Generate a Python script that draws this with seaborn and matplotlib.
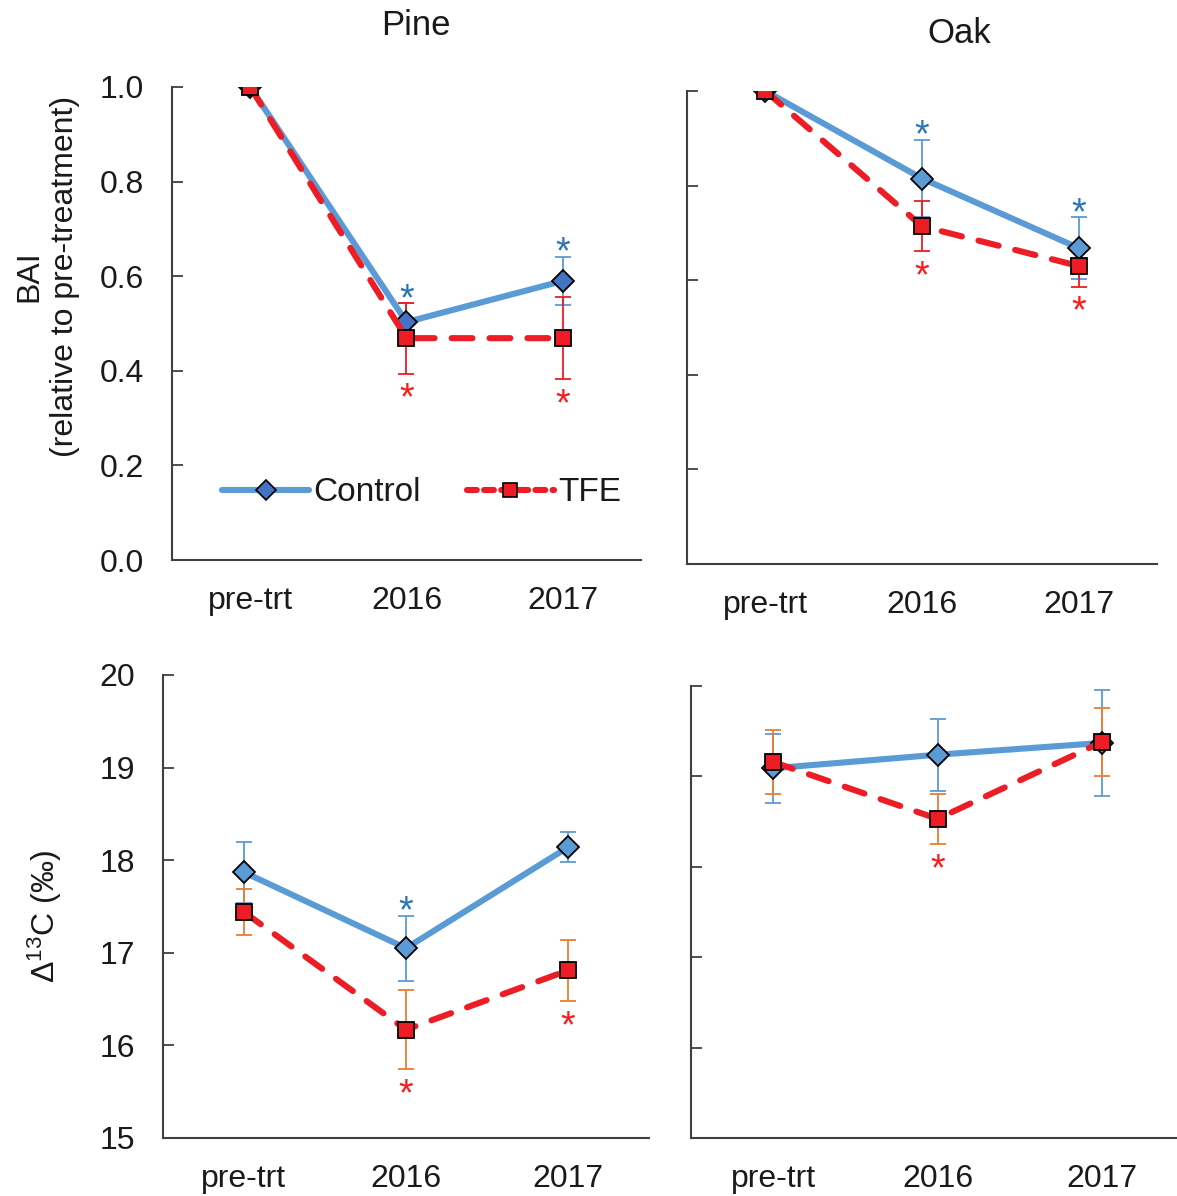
import numpy as np
import pandas as pd
import matplotlib
matplotlib.use("Agg")
import matplotlib.pyplot as plt
import seaborn as sns
from matplotlib.lines import Line2D

# ---------------- data ----------------
categories = ["pre-trt", "2016", "2017"]
treatments = ["Control", "TFE"]

pine_bai_control = [1.0, 0.503, 0.590]
pine_bai_control_se = [0.0, 0.040, 0.051]
pine_bai_tfe = [1.0, 0.469, 0.469]
pine_bai_tfe_se = [0.0, 0.075, 0.087]

oak_bai_control = [1.0, 0.815, 0.668]
oak_bai_control_se = [0.0, 0.082, 0.065]
oak_bai_tfe = [1.0, 0.714, 0.630]
oak_bai_tfe_se = [0.0, 0.053, 0.044]

pine_d13c_control = [17.87, 17.05, 18.14]
pine_d13c_control_se = [0.33, 0.35, 0.16]
pine_d13c_tfe = [17.44, 16.17, 16.81]
pine_d13c_tfe_se = [0.25, 0.43, 0.33]

oak_d13c_control = [19.09, 19.24, 19.37]
oak_d13c_control_se = [0.38, 0.40, 0.59]
oak_d13c_tfe = [19.16, 18.53, 19.38]
oak_d13c_tfe_se = [0.35, 0.28, 0.38]

# significance flags (asterisks)
pine_bai_control_sig = [False, True, True]
pine_bai_tfe_sig = [False, True, True]
oak_bai_control_sig = [False, True, True]
oak_bai_tfe_sig = [False, True, True]
pine_d13c_control_sig = [False, True, False]
pine_d13c_tfe_sig = [False, True, True]
oak_d13c_control_sig = [False, False, False]
oak_d13c_tfe_sig = [False, True, False]

bai_ticks = [0.0, 0.2, 0.4, 0.6, 0.8, 1.0]
d13c_ticks = [15, 16, 17, 18, 19, 20]

# ---------------- style ----------------
sns.set_theme(style="white")
plt.rcParams["font.family"] = ["Liberation Sans", "DejaVu Sans"]
plt.rcParams["mathtext.fontset"] = "custom"
plt.rcParams["mathtext.rm"] = "Liberation Sans"
plt.rcParams["mathtext.it"] = "Liberation Sans:italic"
plt.rcParams["mathtext.bf"] = "Liberation Sans:bold"

BLUE = "#5B9BD5"
DARKBLUE = "#4472C4"
RED = "#EE1C25"
ORANGE = "#ED7D31"
SPINE = "#404040"
TEXT = "#1a1a1a"
FS = 23

W, H = 1177, 1196
fig = plt.figure(figsize=(W / 100, H / 100), dpi=100)


def rect(x0, y0, x1, y1):
    return [x0 / W, 1 - y1 / H, (x1 - x0) / W, (y1 - y0) / H]


ax_tl = fig.add_axes(rect(172, 87, 641, 560))
ax_tr = fig.add_axes(rect(687, 91, 1157, 564))
ax_bl = fig.add_axes(rect(163, 675, 649, 1138))
ax_br = fig.add_axes(rect(691, 686, 1184, 1138))


def star(ax, x, y, color, above):
    # asterisk glyph centred ~11pt beyond the error-bar cap
    fs = 27
    glyph_mid = 0.57 * fs
    off = 10.5 - glyph_mid if above else -10.5 - glyph_mid
    ax.annotate("*", xy=(x, y), xytext=(0, off), textcoords="offset points",
                ha="center", va="baseline", fontsize=fs, color=color,
                annotation_clip=False, zorder=6)


def panel(ax, ctrl, ctrl_se, tfe, tfe_se, ctrl_sig, tfe_sig, ylim, yticks,
          ticklabels, tfe_err_color, diamond_fc, star_blue):
    x = np.arange(len(categories))
    ax.errorbar(x, ctrl, yerr=ctrl_se, fmt="none", ecolor=BLUE, elinewidth=1.3,
                capsize=5.5, capthick=1.3, zorder=1.5)
    ax.errorbar(x, tfe, yerr=tfe_se, fmt="none", ecolor=tfe_err_color, elinewidth=1.3,
                capsize=5.5, capthick=1.3, zorder=1.6)
    df = pd.DataFrame({
        "x": list(x) * 2,
        "y": list(ctrl) + list(tfe),
        "trt": ["Control"] * 3 + ["TFE"] * 3,
    })
    n0 = len(ax.lines)
    sns.lineplot(data=df, x="x", y="y", hue="trt", style="trt",
                 palette={"Control": BLUE, "TFE": RED},
                 markers={"Control": "D", "TFE": "s"},
                 dashes={"Control": "", "TFE": (3.4, 2.8)},
                 linewidth=4.4, markeredgecolor="black", markeredgewidth=1.3,
                 errorbar=None, legend=False, sort=False, ax=ax)
    new = ax.lines[n0:]
    for ln in new:
        ln.set_zorder(3)
        if ln.get_marker() == "D":
            ln.set_markerfacecolor(diamond_fc)
            ln.set_markersize(11)
        else:
            ln.set_markersize(11)
            ln.set_dash_capstyle("round")
            ln.set_zorder(3.5)
    for i in range(3):
        if ctrl_sig[i]:
            star(ax, i, ctrl[i] + ctrl_se[i], star_blue, True)
        if tfe_sig[i]:
            star(ax, i, tfe[i] - tfe_se[i], "#FF1A1A", False)

    ax.set_xlim(-0.5, 2.5)
    ax.set_ylim(*ylim)
    ax.set_yticks(yticks)
    ax.set_xticks(x)
    ax.set_xticklabels(categories)
    if ticklabels is None:
        ax.set_yticklabels([])
    else:
        ax.set_yticklabels(ticklabels)
    ax.set_xlabel("")
    ax.set_ylabel("")
    for s in ["top", "right"]:
        ax.spines[s].set_visible(False)
    for s in ["left", "bottom"]:
        ax.spines[s].set_color(SPINE)
        ax.spines[s].set_linewidth(1.5)
    ax.tick_params(axis="y", direction="in", length=8, width=1.3, color=SPINE,
                   labelsize=FS, labelcolor=TEXT, pad=20, left=True)
    ax.tick_params(axis="x", length=0, labelsize=FS, labelcolor=TEXT, pad=19,
                   bottom=True)
    ax.patch.set_alpha(0)


panel(ax_tl, pine_bai_control, pine_bai_control_se, pine_bai_tfe, pine_bai_tfe_se,
      pine_bai_control_sig, pine_bai_tfe_sig, (0, 1.0), bai_ticks,
      [f"{t:.1f}" for t in bai_ticks], RED, DARKBLUE, "#2E75B6")
panel(ax_tr, oak_bai_control, oak_bai_control_se, oak_bai_tfe, oak_bai_tfe_se,
      oak_bai_control_sig, oak_bai_tfe_sig, (0, 1.0), bai_ticks, None, RED,
      BLUE, "#2E75B6")
panel(ax_bl, pine_d13c_control, pine_d13c_control_se, pine_d13c_tfe, pine_d13c_tfe_se,
      pine_d13c_control_sig, pine_d13c_tfe_sig, (15, 20), d13c_ticks,
      [str(t) for t in d13c_ticks], ORANGE, BLUE, "#2E75B6")
panel(ax_br, oak_d13c_control, oak_d13c_control_se, oak_d13c_tfe, oak_d13c_tfe_se,
      oak_d13c_control_sig, oak_d13c_tfe_sig, (15, 20), d13c_ticks, None, ORANGE,
      BLUE, "#2E75B6")

# titles
ax_tl.text(0.52, 1.131, "Pine", transform=ax_tl.transAxes, ha="center", va="center",
           fontsize=25, color=TEXT)
ax_tr.text(0.579, 1.122, "Oak", transform=ax_tr.transAxes, ha="center", va="center",
           fontsize=25, color=TEXT)

# y labels
fig.text(47 / W, 1 - 276 / H, "BAI\n(relative to pre-treatment)", rotation=90,
         ha="center", va="center", multialignment="center", fontsize=FS, color=TEXT,
         linespacing=1.25)
fig.text(45 / W, 1 - 917 / H, "Δ$^{13}$C (‰)", rotation=90, ha="center", va="center",
         fontsize=FS, color=TEXT)

# legend
h_ctrl = Line2D([], [], color=BLUE, lw=4.4, marker="D", markersize=10,
                markerfacecolor=DARKBLUE, markeredgecolor="black", markeredgewidth=1.2,
                solid_capstyle="round")
h_tfe = Line2D([], [], color=RED, lw=4.4, marker="s", markersize=10,
               markerfacecolor=RED, markeredgecolor="black", markeredgewidth=1.2,
               dashes=(1.6, 1.2), dash_capstyle="round")
ax_tl.legend([h_ctrl, h_tfe], treatments, loc="center", bbox_to_anchor=(0.532, 0.142),
             ncol=2, frameon=False, fontsize=24, handlelength=2.6, handletextpad=0.12,
             columnspacing=1.4, labelcolor=TEXT)

fig.savefig("out.png", dpi=100)
